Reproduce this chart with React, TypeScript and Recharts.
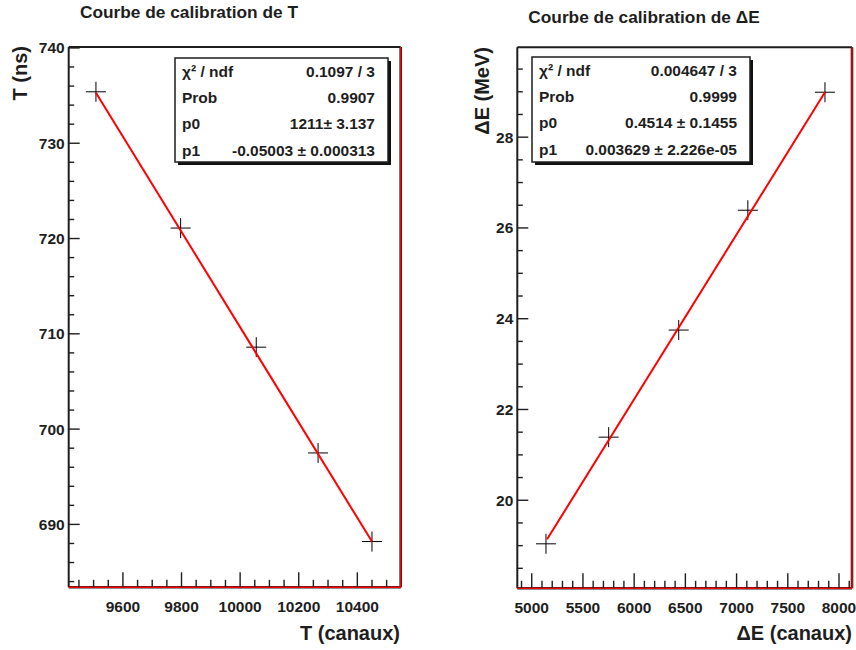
import React from 'react';
import { ScatterChart, Scatter, XAxis, YAxis, ReferenceLine } from 'recharts';

// calibration T : canaux -> ns
const tCanaux = [9508, 9797, 10055, 10266, 10450];
const tNs = [735.4, 721.1, 708.6, 697.5, 688.2];
const tFitCanaux = [9508, 10450];
const tFitNs = [735.3, 688.2];

// calibration dE : canaux -> MeV
const eCanaux = [5139, 5751, 6435, 7110, 7863];
const eMeV = [19.04, 21.39, 23.75, 26.39, 28.99];
const eFitCanaux = [5150, 7863];
const eFitMeV = [19.14, 28.99];

const tXLabels = [9600, 9800, 10000, 10200, 10400];
const tYLabels = [690, 700, 710, 720, 730, 740];
const eXLabels = [5000, 5500, 6000, 6500, 7000, 7500, 8000];
const eYLabels = [20, 22, 24, 26, 28];

const tStats = [
  ['χ² / ndf', '0.1097 / 3'],
  ['Prob', '0.9907'],
  ['p0', '1211± 3.137'],
  ['p1', '-0.05003 ± 0.000313'],
];
const eStats = [
  ['χ² / ndf', '0.004647 / 3'],
  ['Prob', '0.9999'],
  ['p0', '0.4514 ± 0.1455'],
  ['p1', '0.003629 ± 2.226e-05'],
];

const FONT = '"Liberation Sans", Arial, Helvetica, sans-serif';
const INK = '#1e1e1e';

const makeTicks = (lo: number, hi: number, step: number) => {
  const out: number[] = [];
  for (let v = Math.ceil(lo / step) * step; v <= hi + 1e-9; v += step) out.push(+v.toFixed(6));
  return out;
};

const isMajor = (v: number, majors: number[]) => majors.some((m) => Math.abs(m - v) < 1e-6);

const Cross = (props: any) => {
  const { cx, cy } = props;
  return (
    <g>
      <line x1={cx - 10} x2={cx + 10} y1={cy} y2={cy} stroke="#000" strokeWidth={1} />
      <line x1={cx} x2={cx} y1={cy - 10} y2={cy + 10} stroke="#000" strokeWidth={1} />
    </g>
  );
};

interface PanelProps {
  left: number;
  xs: number[];
  ys: number[];
  fitXs: number[];
  fitYs: number[];
  xDomain: [number, number];
  yDomain: [number, number];
  xMajors: number[];
  yMajors: number[];
  xStep: number;
  yStep: number;
  top: number;
  right: number;
  yAxisWidth: number;
  xAxisHeight: number;
}

const Panel: React.FC<PanelProps> = (p) => {
  const points = p.xs.map((x, i) => ({ x, y: p.ys[i] }));
  const fit = p.fitXs.map((x, i) => ({ x, y: p.fitYs[i] }));
  const xTicks = makeTicks(p.xDomain[0], p.xDomain[1], p.xStep);
  const yTicks = makeTicks(p.yDomain[0], p.yDomain[1], p.yStep);

  const xTick = (t: any) => {
    const major = isMajor(t.payload.value, p.xMajors);
    return (
      <g key={'xt' + t.index}>
        <line x1={t.x} x2={t.x} y1={t.y} y2={t.y - (major ? 15 : 7.5)} stroke={INK} strokeWidth={1.4} />
        {major && (
          <text x={t.x} y={t.y + 25} textAnchor="middle" fontSize={15.5} fontWeight="bold" fill={INK} fontFamily={FONT}>
            {t.payload.value}
          </text>
        )}
      </g>
    );
  };

  const yTick = (t: any) => {
    const major = isMajor(t.payload.value, p.yMajors);
    return (
      <g key={'yt' + t.index}>
        <line x1={t.x} x2={t.x + (major ? 11 : 5.5)} y1={t.y} y2={t.y} stroke={INK} strokeWidth={1.4} />
        {major && (
          <text x={t.x - 4} y={t.y + 5.5} textAnchor="end" fontSize={15.5} fontWeight="bold" fill={INK} fontFamily={FONT}>
            {t.payload.value}
          </text>
        )}
      </g>
    );
  };

  return (
    <div style={{ position: 'absolute', left: p.left, top: 0 }}>
      <ScatterChart width={428} height={650} margin={{ top: p.top, right: p.right, bottom: 0, left: 0 }}>
        <XAxis
          type="number"
          dataKey="x"
          domain={p.xDomain}
          allowDataOverflow
          ticks={xTicks}
          interval={0}
          tick={xTick}
          tickLine={false}
          axisLine={false}
          tickSize={0}
          tickMargin={0}
          height={p.xAxisHeight}
        />
        <YAxis
          type="number"
          dataKey="y"
          domain={p.yDomain}
          allowDataOverflow
          ticks={yTicks}
          interval={0}
          tick={yTick}
          tickLine={false}
          axisLine={false}
          tickSize={0}
          tickMargin={0}
          width={p.yAxisWidth}
        />
        {/* frame: black top/left, black+red bottom/right */}
        <ReferenceLine y={p.yDomain[1]} stroke={INK} strokeWidth={2} ifOverflow="visible" />
        <ReferenceLine x={p.xDomain[0]} stroke={INK} strokeWidth={2} ifOverflow="visible" />
        <ReferenceLine y={p.yDomain[0]} stroke={INK} strokeWidth={2.6} ifOverflow="visible" />
        <ReferenceLine x={p.xDomain[1]} stroke={INK} strokeWidth={2.6} ifOverflow="visible" />
        <ReferenceLine y={p.yDomain[0]} stroke="#ff0000" strokeWidth={1.4} ifOverflow="visible" />
        <ReferenceLine x={p.xDomain[1]} stroke="#ff0000" strokeWidth={1.4} ifOverflow="visible" />
        <Scatter data={points} shape={Cross} isAnimationActive={false} />
        <Scatter
          data={fit}
          fill="#ff0000"
          line={{ stroke: '#ff0000', strokeWidth: 2 }}
          shape={() => <g />}
          isAnimationActive={false}
        />
      </ScatterChart>
    </div>
  );
};

const StatsBox: React.FC<{ x: number; y: number; w: number; h: number; rows: string[][] }> = ({ x, y, w, h, rows }) => (
  <g>
    <rect x={x + 3} y={y + 3} width={w} height={h} fill="#111" />
    <rect x={x} y={y} width={w} height={h} fill="#fff" stroke={INK} strokeWidth={1.5} />
    {rows.map((r, i) => (
      <g key={i}>
        <text x={x + 7} y={y + 19 + i * 26.2} fontSize={15.5} fontWeight="bold" fill={INK} fontFamily={FONT}>
          {r[0]}
        </text>
        <text x={x + w - 13} y={y + 19 + i * 26.2} textAnchor="end" fontSize={15.5} fontWeight="bold" fill={INK} fontFamily={FONT}>
          {r[1]}
        </text>
      </g>
    ))}
  </g>
);

export default function App() {
  return (
    <div style={{ position: 'absolute', left: 0, top: 0, width: 856, height: 650, background: '#fff' }}>
      <Panel
        left={0}
        xs={tCanaux}
        ys={tNs}
        fitXs={tFitCanaux}
        fitYs={tFitNs}
        xDomain={[9415, 10548]}
        yDomain={[683.4, 740.1]}
        xMajors={tXLabels}
        yMajors={tYLabels}
        xStep={50}
        yStep={2}
        top={47}
        right={27.3}
        yAxisWidth={68.7}
        xAxisHeight={62.7}
      />
      <Panel
        left={428}
        xs={eCanaux}
        ys={eMeV}
        fitXs={eFitCanaux}
        fitYs={eFitMeV}
        xDomain={[4859, 8127]}
        yDomain={[18.06, 29.98]}
        xMajors={eXLabels}
        yMajors={eYLabels}
        xStep={100}
        yStep={0.5}
        top={47.3}
        right={4}
        yAxisWidth={89.3}
        xAxisHeight={61.7}
      />
      <svg width={856} height={650} style={{ position: 'absolute', left: 0, top: 0, pointerEvents: 'none' }}>
        <g fontFamily={FONT} fontWeight="bold" fill={INK}>
          <text x={80} y={17.5} fontSize={17.3}>Courbe de calibration de T</text>
          <text x={528.3} y={22.5} fontSize={17.3}>Courbe de calibration de ΔE</text>
          <text x={400} y={639.5} fontSize={20} textAnchor="end">T (canaux)</text>
          <text x={852} y={640} fontSize={20} textAnchor="end">ΔE (canaux)</text>
          <text transform="translate(26.5,46) rotate(-90)" fontSize={20} textAnchor="end">T (ns)</text>
          <text transform="translate(488.5,47) rotate(-90)" fontSize={20} textAnchor="end">ΔE (MeV)</text>
        </g>
        <StatsBox x={175} y={58} w={213} h={104} rows={tStats} />
        <StatsBox x={532} y={57} w={218} h={105} rows={eStats} />
      </svg>
    </div>
  );
}
